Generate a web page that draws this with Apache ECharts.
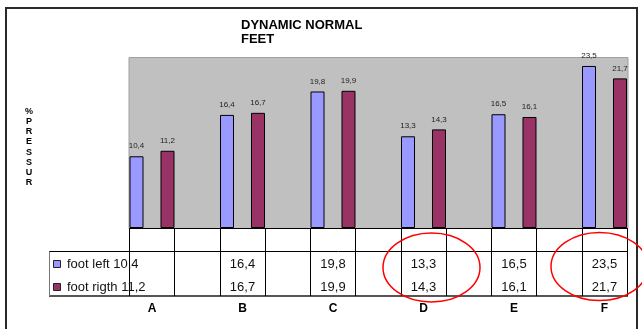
<!DOCTYPE html>
<html>
<head>
<meta charset="utf-8">
<script src="https://cdn.jsdelivr.net/npm/echarts@6/dist/echarts.min.js"></script>
<style>
  html, body { margin: 0; padding: 0; background: #fff; overflow: hidden; }
  /* the last category band runs a little past the visible 642px */
  #chart { width: 660px; height: 329px; }
</style>
</head>
<body>
<div id="chart"></div>
<script>
// ---- data ----
const categories = ['A', 'B', 'C', 'D', 'E', 'F'];
const footLeft = [10.4, 16.4, 19.8, 13.3, 16.5, 23.5];
const footRight = [11.2, 16.7, 19.9, 14.3, 16.1, 21.7];
const seriesNames = ['foot left', 'foot rigth'];
const titleLines = ['DYNAMIC NORMAL', 'FEET'];
const yTitleLetters = ['%', 'P', 'R', 'E', 'S', 'S', 'U', 'R'];

// ---- styling ----
const FONT = "'Liberation Sans', Arial, sans-serif";
const COLORS = ['#9999ff', '#993366'];
const fmt = v => String(v).replace('.', ',');

const chart = echarts.init(document.getElementById('chart'), null, { renderer: 'canvas' });

const barLabel = {
  show: true,
  position: 'top',
  distance: 6,
  formatter: p => fmt(p.value),
  fontFamily: FONT,
  fontSize: 8,
  color: '#222'
};

chart.setOption({
  animation: false,
  title: {
    text: titleLines.join('\n'),
    left: 241,
    top: 18,
    padding: 0,
    textStyle: { fontFamily: FONT, fontWeight: 'bold', fontSize: 13, lineHeight: 14, color: '#000' }
  },
  grid: { left: 106.75, top: 57, width: 543, height: 171 },
  xAxis: {
    type: 'category',
    data: categories,
    axisLine: { show: false },
    axisTick: { show: false },
    splitLine: { show: false },
    axisLabel: { margin: 75, fontFamily: FONT, fontWeight: 'bold', fontSize: 12, color: '#000' }
  },
  yAxis: { type: 'value', min: 0, max: 24.8, show: false },
  series: [
    {
      name: seriesNames[0], type: 'bar', data: footLeft,
      barWidth: 14, barGap: '121.4%', z: 3,
      itemStyle: { color: COLORS[0], borderColor: '#000', borderWidth: 1 },
      label: barLabel
    },
    {
      name: seriesNames[1], type: 'bar', data: footRight,
      barWidth: 14, barGap: '121.4%', z: 3,
      itemStyle: { color: COLORS[1], borderColor: '#000', borderWidth: 1 },
      label: barLabel
    }
  ]
});

// ---- plot background, data table and annotations, laid out from the axis ----
const cx = categories.map(c => chart.convertToPixel({ xAxisIndex: 0 }, c));
const yBase = Math.round(chart.convertToPixel({ yAxisIndex: 0 }, 0));
const yTop = Math.round(chart.convertToPixel({ yAxisIndex: 0 }, 24.8));
const half = 23;                         // half width of a bar pair
const plotL = Math.round(cx[0] - half);
const plotR = Math.round(cx[cx.length - 1] + half);
const tableL = 49, tableTop = 251.5, tableBot = 296;
const rowY = [264, 287];

const g = [];
const line = (x1, y1, x2, y2, stroke, w, z) => g.push({
  type: 'line', z: z || 10, silent: true,
  shape: { x1, y1, x2, y2 },
  style: { stroke: stroke || '#000', lineWidth: w || 1 }
});
const text = (x, y, str, extra) => g.push({
  type: 'text', z: 10, silent: true, x, y,
  style: Object.assign({ text: str, fontFamily: FONT, fontSize: 13, fill: '#111', align: 'center', verticalAlign: 'middle' }, extra || {})
});

// outer frame
g.push({ type: 'rect', z: 20, silent: true, shape: { x: 6, y: 8, width: 631, height: 340 },
  style: { fill: 'none', stroke: '#2a2a2a', lineWidth: 2 } });

// gray plot area
g.push({ type: 'rect', z: 0, silent: true,
  shape: { x: plotL, y: yTop + 0.5, width: plotR - plotL, height: yBase - yTop },
  style: { fill: '#c0c0c0', stroke: '#a0a0a0', lineWidth: 1 } });

// category axis line
line(plotL, yBase + 0.5, plotR, yBase + 0.5, '#000', 1);

// data table grid
line(tableL, tableTop, plotR, tableTop, '#000', 1);
line(tableL, tableBot, plotR, tableBot, '#555', 2);
line(tableL + 0.5, tableTop, tableL + 0.5, tableBot, '#777', 1);
cx.forEach(c => {
  line(Math.round(c - half) + 0.5, yBase, Math.round(c - half) + 0.5, tableBot, '#000', 1);
  line(Math.round(c + half) - 0.5, yBase, Math.round(c + half) - 0.5, tableBot, '#000', 1);
});

// legend keys and values
[footLeft, footRight].forEach((vals, r) => {
  g.push({ type: 'rect', z: 10, silent: true,
    shape: { x: 53.5, y: rowY[r] - 3.5, width: 7, height: 7 },
    style: { fill: COLORS[r], stroke: '#222', lineWidth: 1 } });
  text(67, rowY[r], seriesNames[r] + ' ' + fmt(vals[0]), { align: 'left' });
  vals.forEach((v, i) => { if (i > 0) text(cx[i], rowY[r], fmt(v)); });
});

// vertical axis title
text(29, 147, yTitleLetters.join('\n'), { fontSize: 9, fontWeight: 'bold', lineHeight: 10.2, fill: '#000' });

// hand-drawn highlight rings
[[431.5, 267.5, 48.5, 34.5], [599.5, 266.5, 48.5, 34]].forEach(([ex, ey, rx, ry]) => g.push({
  type: 'ellipse', z: 30, silent: true,
  shape: { cx: ex, cy: ey, rx, ry },
  style: { fill: 'none', stroke: '#ff0000', lineWidth: 1.5 }
}));

chart.setOption({ graphic: g });
</script>
</body>
</html>
